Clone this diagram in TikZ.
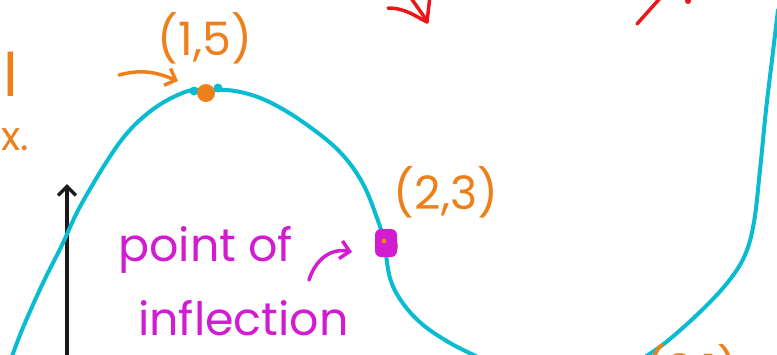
\documentclass[tikz,border=0pt]{standalone}
\usepackage{fontspec}
\setmainfont{Poppins}
\usetikzlibrary{arrows.meta}

\definecolor{cyanink}{RGB}{10,188,210}
\definecolor{orangeink}{RGB}{238,128,28}
\definecolor{magink}{RGB}{210,28,210}
\definecolor{redink}{RGB}{232,24,24}
\definecolor{blackink}{RGB}{25,25,25}

\begin{document}
\begin{tikzpicture}[x=1pt,y=-1pt,
  curve/.style={draw=cyanink, line width=4pt, line cap=round, line join=round},
  ink/.style={line width=3.5pt, line cap=round, line join=round},
  barb/.style={-{Straight Barb[length=9pt,width=18pt,line width=3.5pt]}},
  orangenote/.style={text=orangeink, inner sep=0pt, font=\fontsize{46}{48}\selectfont},
  magnote/.style={text=magink, inner sep=0pt, anchor=west, font=\fontsize{46}{48}\selectfont}]
  \useasboundingbox (0,0) rectangle (777,354);
  \clip (0,0) rectangle (777,354);

  % ── key points on the curve ─────────────────────────────
  \coordinate (maxpt) at (206,93);
  \coordinate (inflpt) at (385,243);

  % ── axis ────────────────────────────────────────────────
  \coordinate (axbot) at (67,360);
  \coordinate (axtop) at (67,184);
  \draw[ink, blackink, barb] (axbot) -- (axtop);

  % ── the curve ───────────────────────────────────────────
  \draw[curve] plot[smooth, tension=0.6] coordinates {
    (10,362) (22,330) (42,285) (62,245) (82,203) (120,142) (152,110)
    (185,92) (206,90) (235,91) (265,100) (300,120) (338,150) (362,182)
    (377,218) (384,242) (390,278) (402,302) (422,324) (450,343) (480,358)};
  \draw[curve] plot[smooth, tension=0.6] coordinates {
    (640,360) (665,343) (700,312) (728,282) (745,255) (754,222)
    (760,170) (766,110) (772,60) (778,10)};

  % ── local max (1,5) ─────────────────────────────────────
  \fill[cyanink] (194,91) circle (4.5pt);
  \fill[cyanink] (218,88) circle (4.5pt);
  \fill[orangeink] (maxpt) circle (9pt);
  \node[orangenote] (maxlbl) at (205,38) {(1,5)};
  \coordinate (maxtail) at (119,75);
  \draw[ink, orangeink, barb] (maxtail) .. controls (145,68) and (160,74) .. (178,81);

  % ── point of inflection (2,3) ───────────────────────────
  \fill[orangeink] (387,246) circle (11pt);
  \fill[magink, rounded corners=6pt] (375,229) rectangle (397,257);
  \fill[orangeink] (384,241) circle (2.5pt);
  \node[orangenote] (infllbl) at (446,192) {(2,3)};
  \node[magnote] (poione) at (118,250) {point of};
  \node[magnote] (poitwo) at (138,318) {inflection};
  \coordinate (magtail) at (309,280);
  \draw[ink, magink, barb] (magtail) .. controls (316,258) and (332,248) .. (352,252);

  % ── local min, cut off at the bottom ────────────────────
  \node[orangenote, anchor=north west] (minlbl) at (645,344) {(3,1)};

  % ── local max text, cut off at the left ─────────────────
  \node[orangenote, anchor=south east, font=\fontsize{60}{62}\selectfont] (localtxt) at (18,97) {local};
  \node[orangenote, anchor=south east, font=\fontsize{40}{42}\selectfont] (maxtxt) at (29,151) {max.};

  % ── red strokes at the top ──────────────────────────────
  \draw[ink, redink] (388,8) .. controls (405,8) and (415,16) .. (427,22) -- (430,-4);
  \draw[ink, redink] (411,-2) -- (425,18);
  \draw[ink, redink] (637,24) -- (662,-4);
  \fill[redink] (688,1) circle (3pt);
\end{tikzpicture}
\end{document}
